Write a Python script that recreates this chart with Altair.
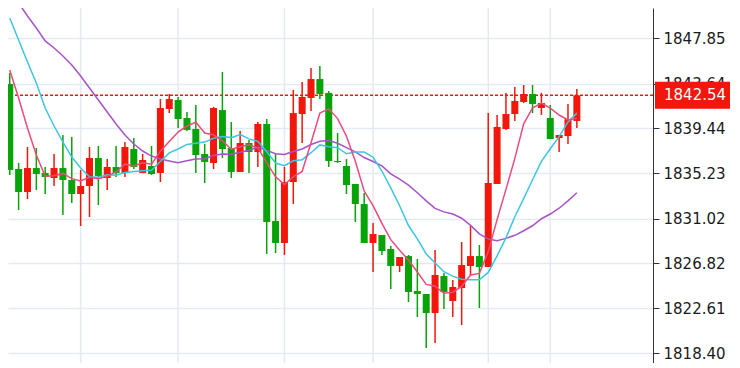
import altair as alt
import pandas as pd

# ---- data ----
opens = [1843.60, 1835.65, 1833.50, 1835.74, 1835.28, 1834.81, 1835.74, 1834.62, 1833.31, 1834.06,
         1836.68, 1834.81, 1835.84, 1835.28, 1837.52, 1835.28, 1835.93, 1835.28, 1841.26, 1842.10,
         1840.42, 1839.39, 1837.05, 1836.21, 1841.16, 1837.61, 1835.37, 1838.08, 1837.24, 1839.86,
         1830.79, 1828.73, 1834.43, 1840.79, 1842.29, 1844.06, 1842.76, 1836.40, 1835.93, 1834.25,
         1832.37, 1828.73, 1829.48, 1828.17, 1826.58, 1827.51, 1824.24, 1823.96, 1822.18, 1825.64,
         1823.31, 1824.52, 1826.58, 1827.51, 1826.49, 1834.25, 1839.39, 1840.79, 1841.91, 1842.66,
         1841.35, 1840.42, 1838.55, 1838.73, 1840.14]
highs = [1844.62, 1836.21, 1837.71, 1837.61, 1835.84, 1837.05, 1838.83, 1838.64, 1835.56, 1837.71,
         1837.80, 1836.58, 1837.80, 1838.17, 1838.55, 1837.05, 1837.80, 1842.19, 1842.66, 1842.38,
         1840.98, 1841.63, 1837.99, 1841.45, 1844.72, 1840.04, 1839.20, 1838.36, 1840.04, 1840.32,
         1837.05, 1835.84, 1843.04, 1843.78, 1845.09, 1845.28, 1842.94, 1839.01, 1836.58, 1834.25,
         1833.41, 1830.60, 1829.48, 1828.45, 1827.42, 1827.61, 1827.23, 1823.96, 1828.07, 1825.93,
         1825.27, 1828.82, 1830.32, 1828.54, 1840.88, 1840.70, 1842.76, 1843.32, 1843.50, 1843.50,
         1842.76, 1841.63, 1838.83, 1841.73, 1843.13]
lows = [1835.09, 1831.82, 1832.84, 1833.69, 1833.31, 1834.06, 1831.35, 1832.47, 1830.32, 1831.16,
        1832.28, 1833.69, 1834.90, 1834.90, 1835.65, 1835.28, 1835.09, 1834.43, 1840.88, 1839.48,
        1839.20, 1835.28, 1834.34, 1835.65, 1836.68, 1834.81, 1835.37, 1835.28, 1835.84, 1827.70,
        1827.79, 1827.61, 1832.37, 1838.08, 1841.07, 1842.19, 1835.84, 1836.21, 1833.31, 1830.69,
        1828.73, 1826.02, 1827.61, 1824.43, 1826.02, 1823.21, 1821.81, 1818.91, 1819.38, 1822.56,
        1821.81, 1821.06, 1825.64, 1822.65, 1826.49, 1834.25, 1839.30, 1840.14, 1841.82, 1840.88,
        1840.70, 1838.45, 1837.24, 1837.99, 1839.48]
closes = [1835.56, 1833.50, 1835.74, 1835.18, 1834.90, 1835.74, 1834.62, 1833.31, 1834.06, 1836.68,
          1835.00, 1835.84, 1835.28, 1837.71, 1835.84, 1836.49, 1835.18, 1841.35, 1842.19, 1840.32,
          1839.30, 1836.96, 1836.30, 1841.35, 1837.52, 1835.37, 1838.08, 1837.24, 1839.86, 1830.69,
          1828.73, 1834.43, 1840.88, 1842.38, 1844.06, 1842.66, 1836.40, 1836.30, 1834.15, 1832.37,
          1828.73, 1829.57, 1827.98, 1826.58, 1827.42, 1824.15, 1823.96, 1822.18, 1825.74, 1824.15,
          1824.62, 1826.67, 1827.51, 1826.49, 1834.34, 1839.58, 1840.79, 1842.01, 1842.66, 1841.73,
          1841.82, 1838.45, 1838.83, 1840.32, 1842.54]

# moving-average values at the left edge (their earlier candles are off screen)
ma5_lead = [1844.91, 1842.29, 1839.48, 1836.96]
ma10_lead = [1849.77, 1847.71, 1845.65, 1843.69, 1841.35, 1839.67, 1838.17, 1836.77, 1835.74]
ma20_lead = [1852.39, 1851.17, 1849.95, 1848.83, 1847.62, 1846.96, 1846.21, 1845.37, 1844.34,
             1843.22, 1842.10, 1840.98, 1839.86, 1838.83, 1837.99, 1837.33, 1836.86, 1836.58, 1836.40]

grid_idx = [8, 19, 31, 41, 54, 61]
y_ticks = [1818.40, 1822.61, 1826.82, 1831.02, 1835.23, 1839.44, 1843.64, 1847.85]
last_price = 1842.54

# ---- styling ----
RED = "#f2170b"
GREEN = "#08a308"
PINK = "#ec4a7c"
CYAN = "#3cc6e2"
PURPLE = "#a852c8"
GRID = "#e3eaf1"
FONT = "DejaVu Sans"

n = len(closes)


def pad(lead):
    return lead + [None] * (n - len(lead))


df = pd.DataFrame({
    "i": list(range(n)), "o": opens, "h": highs, "l": lows, "c": closes,
    "m5l": pad(ma5_lead), "m10l": pad(ma10_lead), "m20l": pad(ma20_lead),
})

PLOT_H = 355
xscale = alt.Scale(domain=[0.367, 72.03], nice=False, zero=False)
# 10.696 px per price unit, 1847.85 at 30.5 px below the plot top
y_top = 1847.85 + 30.5 / 10.696
y_bot = y_top - PLOT_H / 10.696
yscale = alt.Scale(domain=[y_bot, y_top], nice=False, zero=False)
yaxis = alt.Axis(orient="right", values=y_ticks, format=".2f", title=None, grid=True,
                 gridColor=GRID, gridWidth=1.5, domainColor="#333333", tickColor="#333333",
                 tickSize=6, labelPadding=4, labelFont=FONT, labelFontSize=15,
                 labelColor="#1a1a1a")

base = alt.Chart(df)
X = alt.X("i:Q", scale=xscale, axis=None)

vgrid = alt.Chart(pd.DataFrame({"i": grid_idx})).mark_rule(
    color=GRID, strokeWidth=1.5, clip=True
).encode(x=alt.X("i:Q", scale=xscale, axis=None))

price_line = alt.Chart(pd.DataFrame({"p": [last_price]})).mark_rule(
    color=RED, strokeWidth=1.5, strokeDash=[3, 2], clip=True
).encode(y=alt.Y("p:Q", scale=yscale, axis=yaxis))

updown = alt.condition("datum.c >= datum.o", alt.value(RED), alt.value(GREEN))

wicks = base.mark_rule(strokeWidth=1.5, clip=True).encode(
    x=X, y=alt.Y("l:Q", scale=yscale, axis=yaxis), y2="h:Q", color=updown
)
bodies = base.mark_bar(width=7, clip=True).encode(
    x=X, y=alt.Y("o:Q", scale=yscale, axis=yaxis), y2="c:Q", color=updown
)

ma_base = base.transform_window(
    w5="mean(c)", frame=[-4, 0], sort=[alt.SortField("i")]
).transform_window(
    w10="mean(c)", frame=[-9, 0], sort=[alt.SortField("i")]
).transform_window(
    w20="mean(c)", frame=[-19, 0], sort=[alt.SortField("i")]
).transform_calculate(
    ma5="isValid(datum.m5l) ? datum.m5l : datum.w5",
    ma10="isValid(datum.m10l) ? datum.m10l : datum.w10",
    ma20="isValid(datum.m20l) ? datum.m20l : datum.w20",
)


def ma_line(field, color):
    return ma_base.mark_line(color=color, strokeWidth=1.5, clip=True).encode(
        x=X, y=alt.Y(f"{field}:Q", scale=yscale, axis=yaxis), order="i:Q"
    )


label_df = pd.DataFrame({"p": [last_price], "txt": [f"{last_price:.2f}"]})
label_box = alt.Chart(label_df).transform_calculate(
    lo="datum.p - 1.262", hi="datum.p + 1.262"
).mark_rect(color=RED).encode(
    x=alt.value(647), x2=alt.value(722),
    y=alt.Y("lo:Q", scale=yscale, axis=yaxis), y2="hi:Q"
)
label_text = alt.Chart(label_df).mark_text(
    align="left", baseline="middle", color="white", font=FONT, fontSize=15
).encode(x=alt.value(656), y=alt.Y("p:Q", scale=yscale, axis=yaxis), text="txt:N")

chart = alt.layer(
    vgrid, price_line, wicks, bodies,
    ma_line("ma20", PURPLE), ma_line("ma10", CYAN), ma_line("ma5", PINK),
    label_box, label_text,
).properties(
    width=645, height=PLOT_H, background="white",
    autosize=alt.AutoSizeParams(type="none"),
    padding={"left": 0, "top": 0, "right": 77, "bottom": 0},
).configure_view(stroke=None)

chart.save("out.html", embed_options={"renderer": "svg", "actions": False})
